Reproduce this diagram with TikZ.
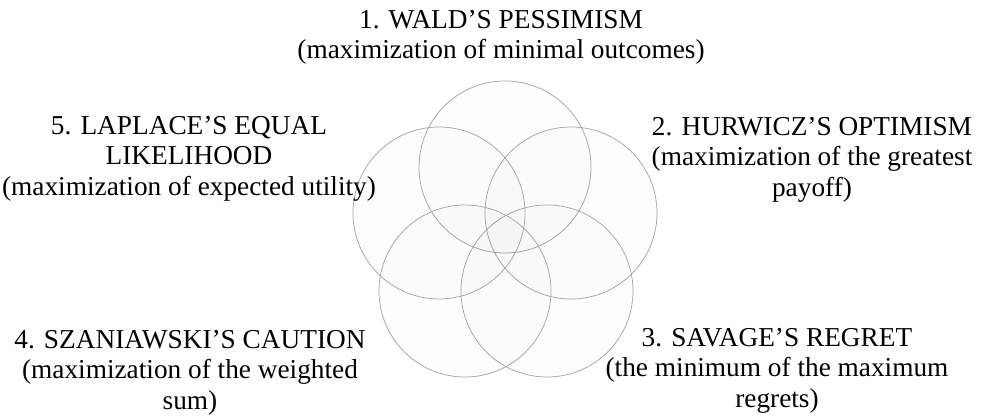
\documentclass[tikz,border=0pt]{standalone}
\usepackage{fontspec}
\setmainfont{Liberation Serif}
\begin{document}
\begin{tikzpicture}[x=1pt,y=1pt,
  ring/.style={circle, minimum size=172pt, inner sep=0pt, draw=black!35, line width=0.75pt, fill=black, fill opacity=0.009},
  lbl/.style={align=center, anchor=north, inner sep=0pt, text=black,
    font=\fontsize{27.3}{30.5}\selectfont}]
\useasboundingbox (0,0) rectangle (988,419);
\fill[white] (0,0) rectangle (988,419);
% circles
\node[ring] (c1) at (505,252) {};
\node[ring] (c2) at (571,206) {};
\node[ring] (c3) at (547,128) {};
\node[ring] (c4) at (465,128) {};
\node[ring] (c5) at (439,206) {};
% labels
\node[lbl] (l1) at (501,409) {1. WALD’S PESSIMISM\\(maximization of minimal outcomes)};
\node[lbl] (l2) at (812,302) {2. HURWICZ’S OPTIMISM\\(maximization of the greatest\\payoff)};
\node[lbl] (l3) at (777,91) {3. SAVAGE’S REGRET\\(the minimum of the maximum\\regrets)};
\node[lbl] (l4) at (190,89) {4. SZANIAWSKI’S CAUTION\\(maximization of the weighted\\sum)};
\node[lbl] (l5) at (189,303) {5. LAPLACE’S EQUAL\\LIKELIHOOD\\(maximization of expected utility)};
\end{tikzpicture}
\end{document}
